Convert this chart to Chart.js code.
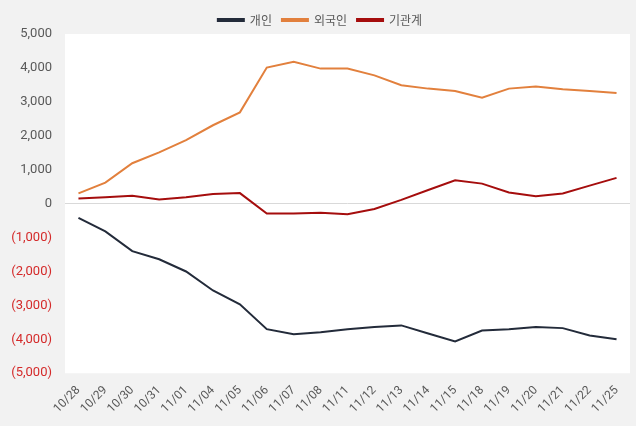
<!DOCTYPE html>
<html>
<head>
<meta charset="utf-8">
<script src="https://cdn.jsdelivr.net/npm/chart.js@4"></script>
<style>
    html, body { margin: 0; padding: 0; background: #f2f2f2; }
    #wrap { width: 636px; height: 426px; }
</style>
</head>
<body>
<div id="wrap"><canvas id="flowChart" width="636" height="426"></canvas></div>
<script>
const DATES = ['10/28', '10/29', '10/30', '10/31', '11/01', '11/04', '11/05', '11/06', '11/07', '11/08', '11/11',
    '11/12', '11/13', '11/14', '11/15', '11/18', '11/19', '11/20', '11/21', '11/22', '11/25'];

const INDIVIDUAL = [-420, -820, -1400, -1640, -2000, -2560, -2970, -3700, -3850, -3790, -3700,
    -3640, -3590, -3830, -4060, -3740, -3700, -3640, -3670, -3890, -4000];
const FOREIGN = [300, 620, 1190, 1510, 1870, 2310, 2690, 4010, 4180, 3980, 3980,
    3780, 3490, 3390, 3320, 3120, 3390, 3450, 3370, 3320, 3260];
const INSTITUTION = [150, 190, 230, 125, 190, 280, 310, -290, -290, -270, -310,
    -160, 110, 400, 690, 590, 330, 220, 300, 530, 760];

const Y_MIN = -5000;
const Y_MAX = 5000;
const Y_STEP = 1000;

const plotBackground = {
    id: 'plotBackground',
    beforeDraw(chart) {
        const { ctx, chartArea } = chart;
        ctx.save();
        ctx.fillStyle = '#f2f2f2';
        ctx.fillRect(0, 0, chart.width, chart.height);
        ctx.fillStyle = '#ffffff';
        ctx.fillRect(chartArea.left, chartArea.top, chartArea.right - chartArea.left, chartArea.bottom - chartArea.top);
        ctx.restore();
    }
};

// legend keeps its item spacing but gives back some of the space under it
const tightLegend = {
    id: 'tightLegend',
    afterInit(chart) {
        const legend = chart.legend;
        const origFit = legend.fit;
        legend.fit = function () {
            origFit.call(this);
            this.height -= 2;
        };
    }
};

function formatTick(value) {
    const s = Math.abs(value).toLocaleString('en-US');
    return value < 0 ? `(${s})` : s;
}

function makeLine(label, data, color) {
    return {
        label: label,
        data: data,
        borderColor: color,
        backgroundColor: color,
        borderWidth: 2,
        pointRadius: 0,
        tension: 0,
        fill: false,
    };
}

new Chart(document.getElementById('flowChart'), {
    type: 'line',
    data: {
        labels: DATES,
        datasets: [
            makeLine('개인', INDIVIDUAL, '#232b3a'),
            makeLine('외국인', FOREIGN, '#e2803d'),
            makeLine('기관계', INSTITUTION, '#a50d0d'),
        ]
    },
    options: {
        responsive: false,
        animation: false,
        layout: { padding: { top: 4, right: 6, bottom: 8, left: 10 } },
        plugins: {
            legend: {
                position: 'top',
                labels: {
                    boxWidth: 26,
                    boxHeight: 2,
                    padding: 10,
                    color: '#595959',
                    font: { family: 'Noto Sans CJK KR', size: 12 },
                }
            },
            tooltip: { enabled: false }
        },
        scales: {
            x: {
                offset: true,
                grid: { display: false },
                border: { display: false },
                ticks: {
                    color: '#595959',
                    font: { family: 'Roboto', size: 12 },
                    minRotation: 45,
                    maxRotation: 45,
                    autoSkip: false,
                    padding: 2,
                }
            },
            y: {
                min: Y_MIN,
                max: Y_MAX,
                border: { display: false },
                afterFit: (scale) => { scale.width = 55; },
                grid: {
                    color: (c) => (c.tick && c.tick.value === 0 ? '#d9d9d9' : 'transparent'),
                    drawTicks: false,
                },
                ticks: {
                    stepSize: Y_STEP,
                    padding: 13,
                    font: { family: 'Roboto', size: 13 },
                    color: (c) => (c.tick && c.tick.value < 0 ? '#d42a2a' : '#595959'),
                    callback: (v) => formatTick(v),
                }
            }
        }
    },
    plugins: [plotBackground, tightLegend]
});
</script>
</body>
</html>
